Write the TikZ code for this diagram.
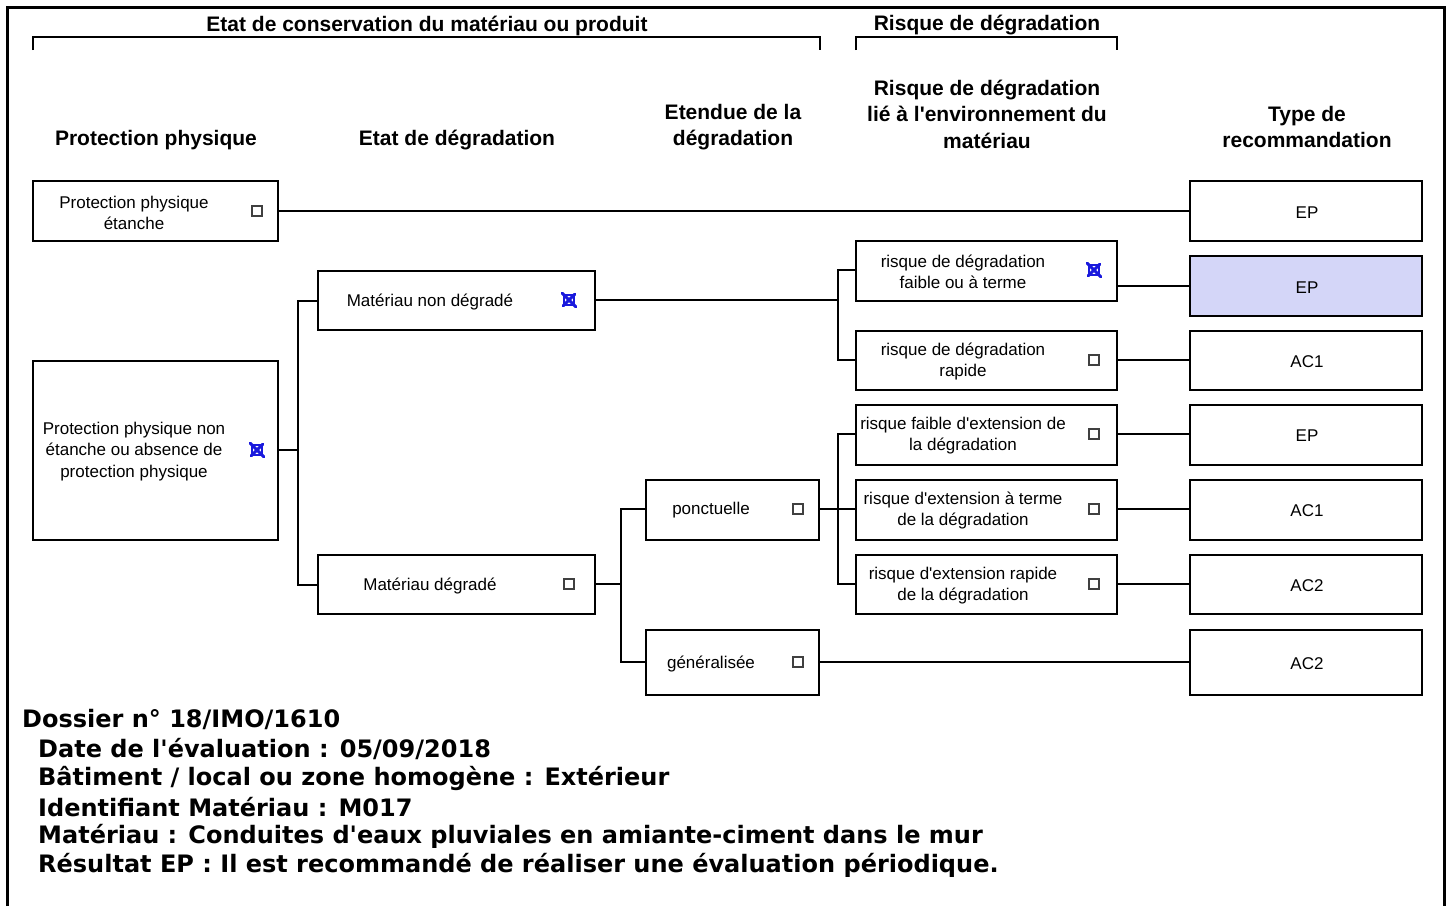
\documentclass[tikz,border=0pt]{standalone}
\usepackage{fontspec}
\setmainfont{Liberation Sans}
\newfontfamily\lsans{Liberation Sans}
\newfontfamily\infofont{DejaVu Sans}
\definecolor{selfill}{HTML}{D4D6F8}
\definecolor{markblue}{HTML}{1A1ADD}
\begin{document}
\begin{tikzpicture}[x=1pt,y=-1pt,
  box/.style={draw, line width=2pt, inner sep=0pt},
  conn/.style={draw, line width=2pt},
  lbl/.style={align=center, inner sep=0pt, yshift=-1.5pt, font=\lsans\fontsize{17}{21}\selectfont},
  hdr/.style={align=center, inner sep=0pt, yshift=-1.5pt, font=\lsans\fontsize{21}{26.5}\selectfont\bfseries},
  cb/.style={draw=black!75, line width=1.3pt, minimum size=10pt, inner sep=0pt},
  cbx/.style={draw=markblue, line width=1.6pt, minimum size=10pt, inner sep=0pt},
  xmark/.style={draw=markblue, line width=3pt, line cap=round, shorten <=-1.5pt, shorten >=-1.5pt},
  info/.style={anchor=west, inner sep=0pt, font=\infofont\fontsize{24}{28}\selectfont\bfseries},
  brk/.style={draw, line width=2pt}
]
\useasboundingbox (0,0) rectangle (1451,906);
% frame
\draw[line width=3pt] (7,906) -- (7,7) -- (1444,7) -- (1444,906);

% brackets
\node[hdr, font=\lsans\fontsize{21}{24}\selectfont\bfseries] (t1) at (427,24) {Etat de conservation du matériau ou produit};
\node[hdr, font=\lsans\fontsize{21}{24}\selectfont\bfseries] (t2) at (987,24) {Risque de dégradation};
\coordinate (k1a) at (33,50); \coordinate (k1b) at (33,37); \coordinate (k1c) at (820,37); \coordinate (k1d) at (820,50);
\draw[brk] (k1a) -- (k1b) -- (k1c) -- (k1d);
\coordinate (k2a) at (856,50); \coordinate (k2b) at (856,37); \coordinate (k2c) at (1117,37); \coordinate (k2d) at (1117,50);
\draw[brk] (k2a) -- (k2b) -- (k2c) -- (k2d);

% headers
\node[hdr] (h1) at (156,139) {Protection physique};
\node[hdr] (h2) at (457,139) {Etat de dégradation};
\node[hdr] (h3) at (733,125.5) {Etendue de la\\dégradation};
\node[hdr] (h4) at (987,112.5) {Risque de dégradation\\lié à l'environnement du\\matériau};
\node[hdr] (h5) at (1307,125.5) {Type de\\recommandation};

% column 1
\node[box, minimum width=245pt, minimum height=60pt] (b1) at (155.5,211) {};
\node[lbl] (b1t) at (134,211) {Protection physique\\étanche};
\node[cb] (b1c) at (257,211) {};
\node[box, minimum width=245pt, minimum height=179pt] (b2) at (155.5,450.5) {};
\node[lbl, font=\lsans\fontsize{17}{21.5}\selectfont] (b2t) at (134,450) {Protection physique non\\étanche ou absence de\\protection physique};
\node[cbx] (b2c) at (257,450) {};
\draw[xmark] (b2c.south west) -- (b2c.north east) (b2c.north west) -- (b2c.south east);

% column 2
\node[box, minimum width=277pt, minimum height=59pt] (b3) at (456.5,300.5) {};
\node[lbl] (b3t) at (430,300) {Matériau non dégradé};
\node[cbx] (b3c) at (569,300) {};
\draw[xmark] (b3c.south west) -- (b3c.north east) (b3c.north west) -- (b3c.south east);
\node[box, minimum width=277pt, minimum height=59pt] (b4) at (456.5,584.5) {};
\node[lbl] (b4t) at (430,584) {Matériau dégradé};
\node[cb] (b4c) at (569,584) {};

% column 3
\node[box, minimum width=173pt, minimum height=60pt] (b5) at (732.5,510) {};
\node[lbl] (b5t) at (711,509) {ponctuelle};
\node[cb] (b5c) at (798,509) {};
\node[box, minimum width=173pt, minimum height=65pt] (b6) at (732.5,662.5) {};
\node[lbl] (b6t) at (711,662) {généralisée};
\node[cb] (b6c) at (798,662) {};

% column 4
\node[box, minimum width=261pt, minimum height=60pt] (r1) at (986.5,271) {};
\node[lbl] (r1t) at (963,270) {risque de dégradation\\faible ou à terme};
\node[cbx] (r1c) at (1094,270) {};
\draw[xmark] (r1c.south west) -- (r1c.north east) (r1c.north west) -- (r1c.south east);
\node[box, minimum width=261pt, minimum height=59pt] (r2) at (986.5,360.5) {};
\node[lbl] (r2t) at (963,360) {risque de dégradation\\rapide};
\node[cb] (r2c) at (1094,360) {};
\node[box, minimum width=261pt, minimum height=60pt] (r3) at (986.5,435) {};
\node[lbl] (r3t) at (963,434) {risque faible d'extension de\\la dégradation};
\node[cb] (r3c) at (1094,434) {};
\node[box, minimum width=261pt, minimum height=60pt] (r4) at (986.5,510) {};
\node[lbl] (r4t) at (963,509) {risque d'extension à terme\\de la dégradation};
\node[cb] (r4c) at (1094,509) {};
\node[box, minimum width=261pt, minimum height=59pt] (r5) at (986.5,584.5) {};
\node[lbl] (r5t) at (963,584) {risque d'extension rapide\\de la dégradation};
\node[cb] (r5c) at (1094,584) {};

% column 5
\node[box, minimum width=232pt, minimum height=60pt] (e1) at (1306,211) {};
\node[lbl] (e1t) at (1307,211) {EP};
\node[box, fill=selfill, minimum width=232pt, minimum height=60pt] (e2) at (1306,286) {};
\node[lbl] (e2t) at (1307,286) {EP};
\node[box, minimum width=232pt, minimum height=59pt] (e3) at (1306,360.5) {};
\node[lbl] (e3t) at (1307,360) {AC1};
\node[box, minimum width=232pt, minimum height=60pt] (e4) at (1306,435) {};
\node[lbl] (e4t) at (1307,434) {EP};
\node[box, minimum width=232pt, minimum height=60pt] (e5) at (1306,510) {};
\node[lbl] (e5t) at (1307,509) {AC1};
\node[box, minimum width=232pt, minimum height=59pt] (e6) at (1306,584.5) {};
\node[lbl] (e6t) at (1307,584) {AC2};
\node[box, minimum width=232pt, minimum height=65pt] (e7) at (1306,662.5) {};
\node[lbl] (e7t) at (1307,662) {AC2};

% connectors
\coordinate (j1) at (298,450);
\coordinate (j2) at (838,300);
\coordinate (j3) at (621,584);
\coordinate (j4) at (838,509);
\draw[conn] (b1.east |- b1c) -- (e1.west |- b1c);
\draw[conn] (b2.east |- j1) -- (j1);
\draw[conn] (b3.west) -| (j1) |- (b4.west);
\draw[conn] (b3.east |- j2) -- (j2);
\draw[conn] (r1.west |- r1c) -| (j2) |- (r2.west |- r2c);
\draw[conn] (r1.east |- e2.west) -- (e2.west);
\draw[conn] (r2.east |- r2c) -- (e3.west |- r2c);
\draw[conn] (b4.east |- j3) -- (j3);
\draw[conn] (b5.west |- b5c) -| (j3) |- (b6.west |- b6c);
\draw[conn] (b5.east |- j4) -- (j4);
\draw[conn] (r3.west |- r3c) -| (j4) |- (r5.west |- r5c);
\draw[conn] (j4) -- (r4.west |- r4c);
\draw[conn] (r3.east |- r3c) -- (e4.west |- r3c);
\draw[conn] (r4.east |- r4c) -- (e5.west |- r4c);
\draw[conn] (r5.east |- r5c) -- (e6.west |- r5c);
\draw[conn] (b6.east |- b6c) -- (e7.west |- b6c);

% info text
\node[info] (i1) at (22,719) {Dossier n° 18/IMO/1610};
\node[info] (i2) at (38,749) {Date de l'évaluation : 05/09/2018};
\node[info] (i3) at (38,778) {Bâtiment / local ou zone homogène : Extérieur};
\node[info] (i4) at (38,807) {Identifiant Matériau : M017};
\node[info] (i5) at (38,836) {Matériau : Conduites d'eaux pluviales en amiante-ciment dans le mur};
\node[info] (i6) at (38,865) {Résultat EP : Il est recommandé de réaliser une évaluation périodique.};
\end{tikzpicture}
\end{document}
